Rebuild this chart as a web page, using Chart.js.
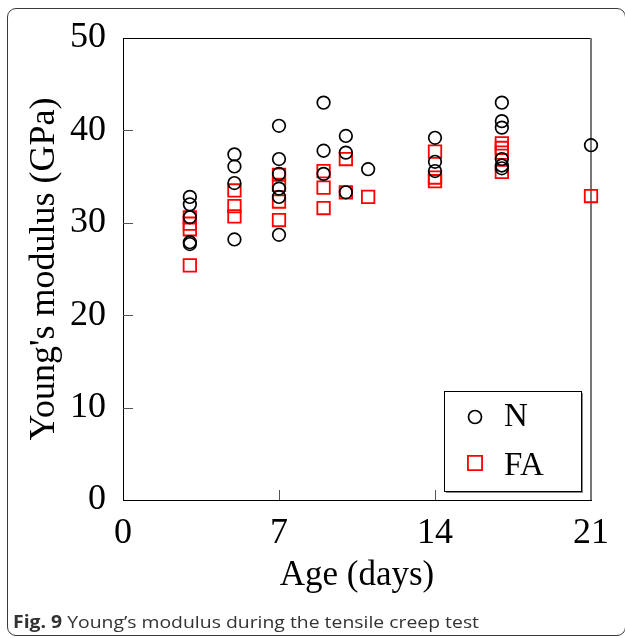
<!DOCTYPE html>
<html>
<head>
<meta charset="utf-8">
<script src="https://cdn.jsdelivr.net/npm/chart.js@4.4.0/dist/chart.umd.min.js"></script>
<style>
  html, body { margin: 0; padding: 0; background: #fff; }
  #wrap { position: relative; width: 625px; height: 638px; overflow: hidden; }
  #frame {
    position: absolute; left: 7px; top: 8px; width: 619px; height: 628px;
    border: 1.5px solid #3a3a3a; border-radius: 9px; box-sizing: border-box;
  }
  #cv { position: absolute; left: 0; top: 0; }
  #caption {
    position: absolute; left: 13px; top: 610px; line-height: 23px;
    font: 17px "Open Sans", sans-serif; color: #333; white-space: nowrap;
    transform: scaleX(1.14); transform-origin: left center;
  }
  #caption b { font-weight: 700; }
</style>
</head>
<body>
<div id="wrap">
  <div id="frame"></div>
  <canvas id="cv" width="625" height="638"></canvas>
  <div id="caption"><b>Fig. 9</b> Young’s modulus during the tensile creep test</div>
</div>
<script>
// 数据
const xTicks = [0, 7, 14, 21];
const yTicks = [0, 10, 20, 30, 40, 50];

// N 组
const nAge = [3, 3, 3, 3, 3,
  5, 5, 5, 5,
  7, 7, 7, 7, 7, 7,
  9, 9, 9,
  10, 10, 10,
  11,
  14, 14, 14,
  17, 17, 17, 17, 17, 17,
  21];
const nModulus = [32.8, 32.0, 30.6, 27.9, 27.7,
  37.4, 36.1, 34.3, 28.2,
  40.5, 36.9, 35.3, 33.7, 32.8, 28.7,
  43.0, 37.8, 35.3,
  39.4, 37.6, 33.3,
  35.8,
  39.2, 36.6, 35.6,
  43.0, 41.0, 40.3, 36.9, 36.2, 35.9,
  38.4];

// FA 组
const faAge = [3, 3, 3, 3,
  5, 5, 5,
  7, 7, 7, 7,
  9, 9, 9,
  10, 10,
  11,
  14, 14, 14,
  17, 17, 17, 17,
  21];
const faModulus = [30.6, 29.9, 29.3, 25.4,
  33.5, 31.8, 30.7,
  35.2, 34.1, 32.3, 30.3,
  35.6, 33.8, 31.6,
  36.9, 33.3,
  32.8,
  37.7, 34.9, 34.5,
  38.6, 38.1, 37.6, 35.5,
  32.9];

const SERIF = "'Liberation Serif', 'Times New Roman', serif";

const toPoints = (xs, ys) => xs.map((x, i) => ({ x: x, y: ys[i] }));

// 内向刻度 + 上/右边框
const frameTicks = {
  id: 'frameTicks',
  beforeDatasetsDraw(chart) {
    const { ctx, chartArea: a, scales: { x, y } } = chart;
    ctx.save();
    ctx.strokeStyle = '#555';
    ctx.lineWidth = 1;
    ctx.beginPath();
    x.ticks.forEach(t => {
      if (t.value <= x.min || t.value >= x.max) return;
      const px = Math.round(x.getPixelForValue(t.value)) + 0.5;
      ctx.moveTo(px, a.bottom);
      ctx.lineTo(px, a.bottom - 10);
    });
    y.ticks.forEach(t => {
      if (t.value <= y.min || t.value >= y.max) return;
      const py = Math.round(y.getPixelForValue(t.value)) + 0.5;
      ctx.moveTo(a.left, py);
      ctx.lineTo(a.left + 10, py);
    });
    ctx.stroke();

    ctx.strokeStyle = '#000';
    ctx.beginPath();
    ctx.moveTo(a.left, a.top + 0.5);
    ctx.lineTo(a.right, a.top + 0.5);
    ctx.stroke();
    ctx.strokeStyle = '#777';
    ctx.lineWidth = 2;
    ctx.beginPath();
    ctx.moveTo(a.right, a.top);
    ctx.lineTo(a.right, a.bottom);
    ctx.stroke();
    ctx.restore();
  }
};

// 图例 (右下角带阴影的方框)
const boxLegend = {
  id: 'boxLegend',
  afterDraw(chart) {
    const { ctx, chartArea: a } = chart;
    const w = 137, h = 100;
    const r = a.right - 10, b = a.bottom - 9;
    const l = r - w, t = b - h;
    ctx.save();
    ctx.fillStyle = '#888';
    ctx.fillRect(l + 2, t + 2, w, h);
    ctx.fillStyle = '#fff';
    ctx.fillRect(l, t, w, h);
    ctx.strokeStyle = '#000';
    ctx.lineWidth = 1;
    ctx.strokeRect(l + 0.5, t + 0.5, w, h);

    const rows = [
      { ds: chart.data.datasets[0], y: t + 26, ty: t + 26, radius: 6.5 },
      { ds: chart.data.datasets[1], y: t + 72, ty: t + 75, radius: 10 }
    ];
    rows.forEach(row => {
      ctx.strokeStyle = row.ds.borderColor;
      ctx.fillStyle = 'rgba(0,0,0,0)';
      ctx.lineWidth = row.ds.borderWidth;
      Chart.helpers.drawPoint(ctx, {
        pointStyle: row.ds.pointStyle, radius: row.radius, rotation: 0,
        borderWidth: row.ds.borderWidth
      }, l + 31, row.y);
      ctx.fillStyle = '#000';
      ctx.font = '33px ' + SERIF;
      ctx.textAlign = 'left';
      ctx.textBaseline = 'middle';
      ctx.fillText(row.ds.label, l + 60, row.ty);
    });
    ctx.restore();
  }
};

new Chart(document.getElementById('cv'), {
  type: 'scatter',
  data: {
    datasets: [
      {
        label: 'N',
        data: toPoints(nAge, nModulus),
        pointStyle: 'circle',
        pointRadius: 6.3,
        borderColor: '#000',
        backgroundColor: 'rgba(0,0,0,0)',
        borderWidth: 1.7,
        clip: false
      },
      {
        label: 'FA',
        data: toPoints(faAge, faModulus),
        pointStyle: 'rect',
        pointRadius: 8.8,
        borderColor: '#ff0000',
        backgroundColor: 'rgba(0,0,0,0)',
        borderWidth: 1.8,
        clip: false
      }
    ]
  },
  options: {
    responsive: false,
    animation: false,
    events: [],
    layout: { padding: { top: 38, right: 34, left: 0, bottom: 0 } },
    plugins: {
      legend: { display: false },
      tooltip: { enabled: false }
    },
    scales: {
      x: {
        type: 'linear',
        min: 0, max: 21,
        afterBuildTicks: s => { s.ticks = xTicks.map(v => ({ value: v })); },
        afterFit: s => { s.height = 138; },
        grid: { display: false },
        border: { display: true, color: '#000', width: 1 },
        ticks: {
          color: '#000', padding: 4, maxRotation: 0, autoSkip: false,
          font: { family: SERIF, size: 36 }
        },
        title: {
          display: true, text: 'Age (days)', color: '#000',
          font: { family: SERIF, size: 35 },
          padding: { top: 0, bottom: 41 }
        }
      },
      y: {
        type: 'linear',
        min: 0, max: 50,
        afterBuildTicks: s => { s.ticks = yTicks.map(v => ({ value: v })); },
        afterFit: s => { s.width = 123; },
        grid: { display: false },
        border: { display: true, color: '#000', width: 1 },
        ticks: {
          color: '#000', padding: 9,
          font: { family: SERIF, size: 36 }
        },
        title: {
          display: true, text: "Young's modulus (GPa)", color: '#000',
          font: { family: SERIF, size: 36 },
          padding: { top: 23, bottom: 0 }
        }
      }
    }
  },
  plugins: [frameTicks, boxLegend]
});
</script>
</body>
</html>
